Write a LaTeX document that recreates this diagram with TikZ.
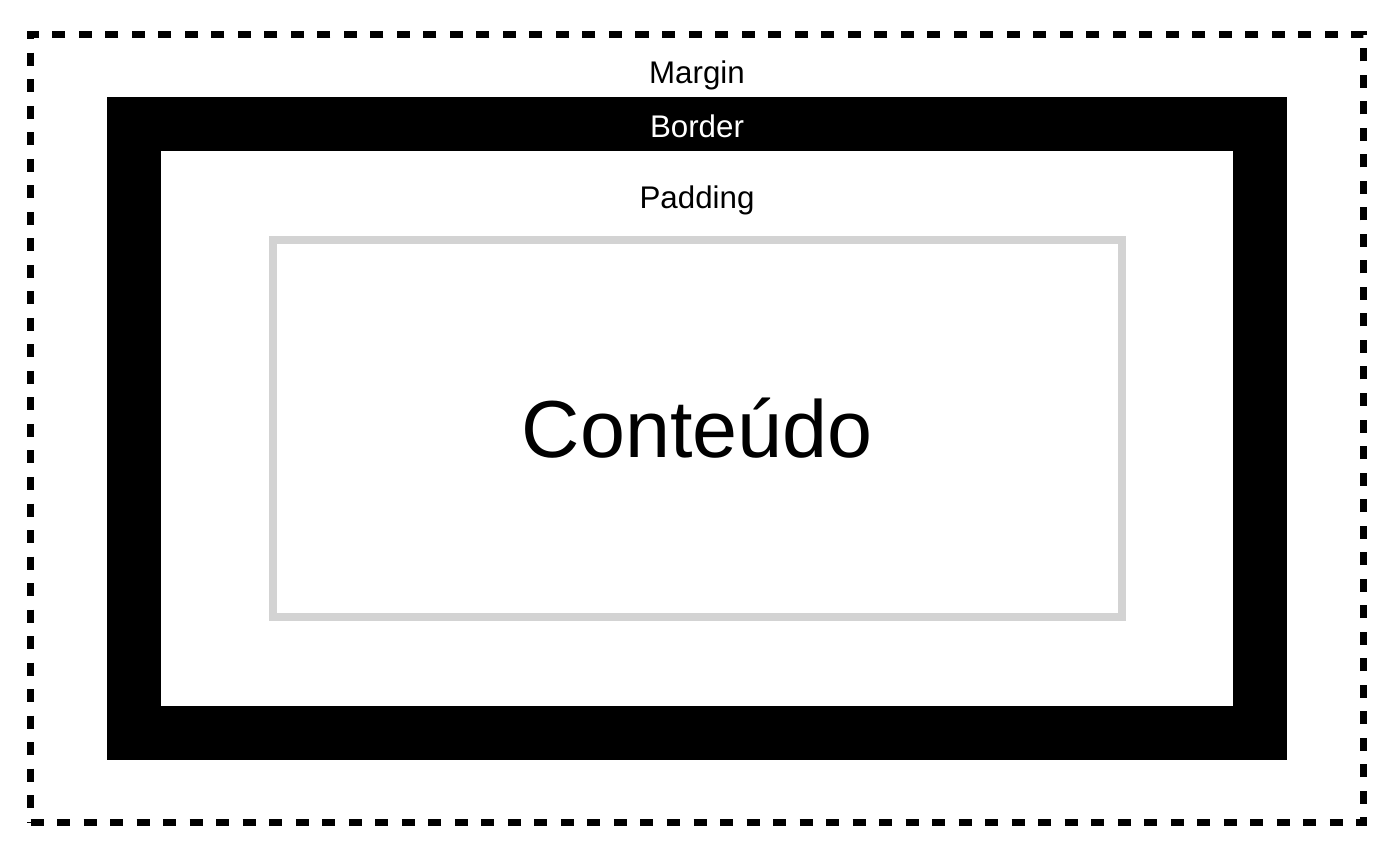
\documentclass[tikz,border=0pt]{standalone}
\usepackage{fontspec}
\setmainfont{Liberation Sans}
\usetikzlibrary{positioning}

\definecolor{boxgray}{HTML}{D3D3D3}

\begin{document}
\begin{tikzpicture}[x=0.01cm, y=-0.01cm,
    box/.style={rectangle, inner sep=0pt, outer sep=0pt},
    marginbox/.style={box, draw=black, line width=0.07cm, dash pattern=on 0.13cm off 0.135cm},
    borderbox/.style={box, draw=black, fill=white, line width=0.54cm},
    contentbox/.style={box, draw=boxgray, line width=0.08cm, font=\fontsize{23}{26}\selectfont},
    tag/.style={inner sep=0pt, font=\fontsize{8.9}{10}\selectfont}
]
\useasboundingbox (0,0) rectangle (1388,852);

\coordinate (c) at (697.25,428.5);

% Boxes
\node[marginbox, minimum width=13.325cm, minimum height=7.88cm] (margin) at (c) {};
\node[borderbox, minimum width=11.25cm, minimum height=6.08cm] (border) at (c) {};
\node[contentbox, minimum width=8.49cm, minimum height=3.77cm] (content) at (c) {Conteúdo};

% Labels
\node[tag] (marginlabel) at (697,75) {Margin};
\node[tag, text=white] (borderlabel) at (697,126) {Border};
\node[tag] (paddinglabel) at (697,200) {Padding};

\end{tikzpicture}
\end{document}
